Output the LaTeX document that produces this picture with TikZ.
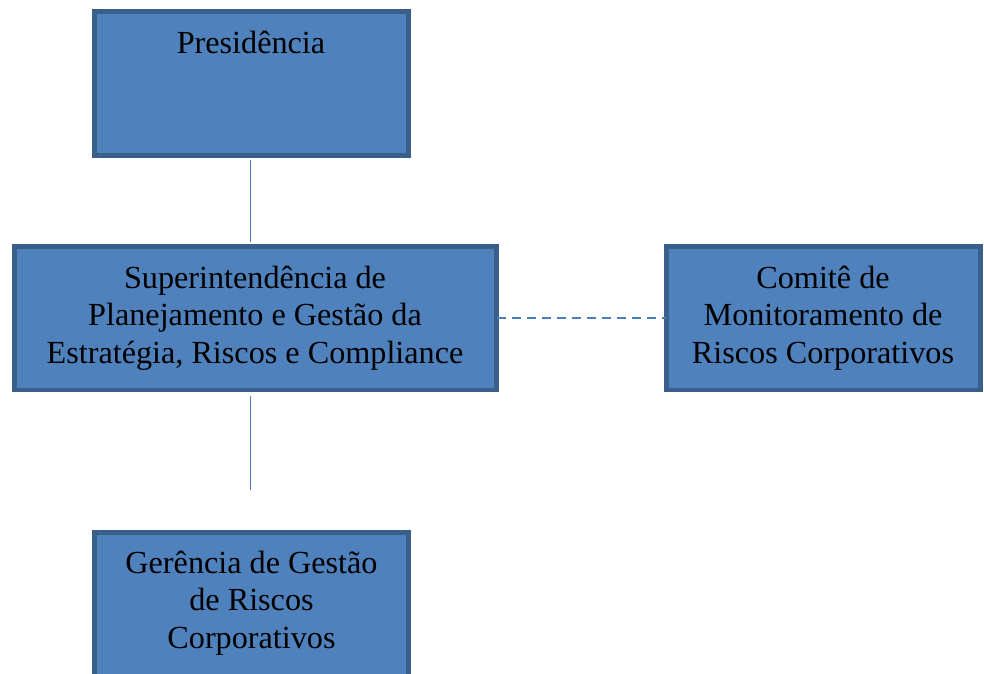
\documentclass[tikz,border=0pt]{standalone}
\usepackage{fontspec}
\setmainfont{Liberation Serif}
\definecolor{boxfill}{HTML}{4F81BD}
\definecolor{boxedge}{HTML}{3A5F8B}
\definecolor{linkc}{HTML}{4A7EBB}
\begin{document}
\begin{tikzpicture}[x=1pt,y=-1pt,
  orgbox/.style={draw=boxedge,fill=boxfill,line width=4.5pt,inner sep=0pt,minimum width=314pt,minimum height=144pt},
  orgtext/.style={inner sep=0pt,align=center,font=\fontsize{32.2}{37.5}\selectfont},
  link/.style={draw=linkc,line width=1.8pt}]
\useasboundingbox (0,0) rectangle (984,673);
\clip (0,0) rectangle (984,673);
\node[orgbox] (pres) at (251.5,83.5) {};
\node[orgbox,minimum width=482pt,minimum height=143.5pt] (sup) at (255.5,318.25) {};
\node[orgbox,minimum height=143.5pt] (com) at (823.5,318.25) {};
\node[orgbox] (ger) at (251.5,604.5) {};
\node[orgtext,anchor=base] (prest) at (251,53) {Presidência};
\node[orgtext,anchor=base] (supt) at (255,363) {Superintendência de\\Planejamento e Gestão da\\Estratégia, Riscos e Compliance};
\node[orgtext,anchor=base] (comt) at (823,363) {Comitê de\\Monitoramento de\\Riscos Corporativos};
\node[orgtext,anchor=base] (gert) at (251.5,648) {Gerência de Gestão\\de Riscos\\Corporativos};
\coordinate (gend) at (250.5,490);
\draw[link] ([xshift=-1pt,yshift=-2.2pt]pres.south) -- ([xshift=-5pt,yshift=2.2pt]sup.north);
\draw[link] ([xshift=-5pt,yshift=-4pt]sup.south) -- (gend);
\draw[link,dash pattern=on 9pt off 6pt] ([xshift=-2pt]sup.east) -- ([xshift=2pt]com.west);
\end{tikzpicture}
\end{document}
